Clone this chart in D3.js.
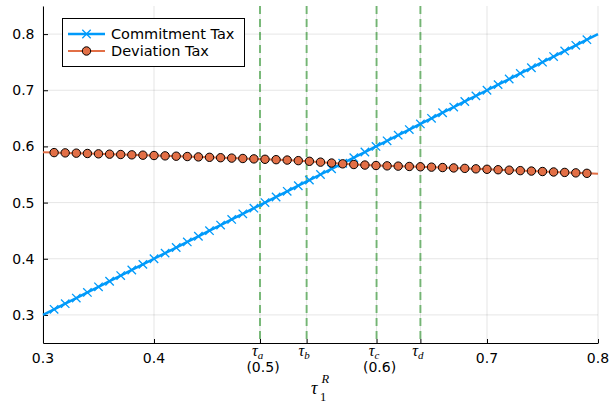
<!DOCTYPE html>
<html>
<head>
<meta charset="utf-8">
<script src="https://cdn.jsdelivr.net/npm/d3@7"></script>
<style>
  html, body { margin: 0; padding: 0; background: #fff; }
  svg { display: block; }
  .tick-label { font-family: "DejaVu Sans", sans-serif; font-size: 14px; fill: #000; }
  .math { font-family: "Liberation Serif", "DejaVu Serif", serif; font-style: italic; fill: #000; }
</style>
</head>
<body>
<svg id="chart" width="610" height="406"></svg>
<script>
// Top-of-file data
const tauR = [0.30,0.31,0.32,0.33,0.34,0.35,0.36,0.37,0.38,0.39,0.40,0.41,0.42,0.43,0.44,0.45,0.46,0.47,0.48,0.49,0.50,
              0.51,0.52,0.53,0.54,0.55,0.56,0.57,0.58,0.59,0.60,0.61,0.62,0.63,0.64,0.65,0.66,0.67,0.68,0.69,0.70,
              0.71,0.72,0.73,0.74,0.75,0.76,0.77,0.78,0.79,0.80];
const commitmentTax = [0.30,0.31,0.32,0.33,0.34,0.35,0.36,0.37,0.38,0.39,0.40,0.41,0.42,0.43,0.44,0.45,0.46,0.47,0.48,0.49,0.50,
              0.51,0.52,0.53,0.54,0.55,0.56,0.57,0.58,0.59,0.60,0.61,0.62,0.63,0.64,0.65,0.66,0.67,0.68,0.69,0.70,
              0.71,0.72,0.73,0.74,0.75,0.76,0.77,0.78,0.79,0.80];
const deviationTax = [0.5895,0.5890,0.5885,0.5880,0.5874,0.5868,0.5862,0.5856,0.5850,0.5844,0.5838,0.5832,0.5826,0.5820,0.5813,
              0.5806,0.5799,0.5792,0.5785,0.5778,0.5771,0.5764,0.5757,0.5747,0.5735,0.5720,0.5704,0.5690,0.5678,0.5668,
              0.5660,0.5654,0.5649,0.5643,0.5637,0.5631,0.5624,0.5617,0.5609,0.5601,0.5593,0.5585,0.5577,0.5569,0.5561,
              0.5553,0.5545,0.5537,0.5529,0.5521,0.5513];
const seriesNames = ["Commitment Tax", "Deviation Tax"];
const thresholdValues = [0.4955, 0.5375, 0.6005, 0.6400];
const thresholdSubs = ["a", "b", "c", "d"];
const thresholdNotes = ["(0.5)", "", "(0.6)", ""];
const xTickValues = [0.3, 0.4, 0.7, 0.8];
const yTickValues = [0.3, 0.4, 0.5, 0.6, 0.7, 0.8];

const svg = d3.select("#chart");
const plotLeft = 43, plotRight = 598, plotTop = 6, plotBottom = 343;
const x = d3.scaleLinear().domain([0.3, 0.8]).range([plotLeft, plotRight]);
const y = d3.scaleLinear().domain([0.25, 0.85]).range([plotBottom, plotTop]);

const blue = "#009AFA", orange = "#E26F46";

// grid
const grid = svg.append("g").attr("stroke", "#000").attr("stroke-opacity", 0.1).attr("stroke-width", 1);
grid.selectAll("line.gx").data(xTickValues.concat(thresholdValues)).join("line")
  .attr("x1", d => x(d)).attr("x2", d => x(d)).attr("y1", plotTop).attr("y2", plotBottom);
grid.selectAll("line.gy").data(yTickValues).join("line")
  .attr("x1", plotLeft).attr("x2", plotRight).attr("y1", d => y(d)).attr("y2", d => y(d));

// axes
const xAxis = d3.axisBottom(x).tickValues(xTickValues.concat(thresholdValues)).tickSize(0).tickFormat(() => "");
const gx = svg.append("g").attr("transform", `translate(0,${plotBottom})`).call(xAxis);
gx.select(".domain").attr("stroke", "#000").attr("stroke-width", 1);
gx.selectAll(".tick").append("line").attr("y1", 0).attr("y2", -4).attr("stroke", "#000");

const yAxis = d3.axisLeft(y).tickValues(yTickValues).tickSize(0).tickFormat(() => "");
const gy = svg.append("g").attr("transform", `translate(${plotLeft},0)`).call(yAxis);
gy.select(".domain").attr("stroke", "#000").attr("stroke-width", 1);
gy.selectAll(".tick").append("line").attr("x1", 0).attr("x2", 5).attr("stroke", "#000");

// tick labels
svg.append("g").selectAll("text").data(xTickValues).join("text")
  .attr("class", "tick-label").attr("x", d => x(d)).attr("y", 362.5)
  .attr("text-anchor", "middle").text(d => d3.format(".1f")(d));
svg.append("g").selectAll("text").data(yTickValues).join("text")
  .attr("class", "tick-label").attr("x", 34.5).attr("y", d => y(d) + 5)
  .attr("text-anchor", "end").text(d => d3.format(".1f")(d));

// threshold labels: τ with subscript, plus an optional numeric note below
const th = svg.append("g").selectAll("g").data(thresholdValues).join("g")
  .attr("transform", d => `translate(${x(d)},0)`);
th.append("text").attr("class", "math").attr("text-anchor", "middle").attr("x", -2.5).attr("y", 356)
  .each(function(d, i) {
    const t = d3.select(this);
    t.append("tspan").attr("font-size", "16px").text("τ");
    t.append("tspan").attr("font-size", "11px").attr("dy", 3).text(thresholdSubs[i]);
  });
th.append("text").attr("class", "tick-label").attr("text-anchor", "middle").attr("x", 3).attr("y", 371.5)
  .text((d, i) => thresholdNotes[i]);

// x-axis title τ₁ᴿ
const xt = svg.append("text").attr("class", "math").attr("x", 311).attr("y", 394);
xt.append("tspan").attr("font-size", "18px").text("τ");
xt.append("tspan").attr("font-size", "12.5px").attr("x", 321.5).attr("y", 382.5).text("R");
xt.append("tspan").attr("font-size", "12.5px").attr("x", 320).attr("y", 401).attr("font-style", "normal").text("1");

// threshold dashed lines
svg.append("g").selectAll("line").data(thresholdValues).join("line")
  .attr("x1", d => x(d)).attr("x2", d => x(d)).attr("y1", plotTop).attr("y2", plotBottom)
  .attr("stroke", "rgb(0,128,0)").attr("stroke-opacity", 0.5).attr("stroke-width", 2)
  .attr("stroke-dasharray", "8,5");

const plot = svg.append("g");
const line = d3.line().x(d => x(d[0])).y(d => y(d[1]));
const commitPts = tauR.map((t, i) => [t, commitmentTax[i]]);
const devPts = tauR.map((t, i) => [t, deviationTax[i]]);

// Commitment tax
plot.append("path").datum(commitPts).attr("d", line)
  .attr("fill", "none").attr("stroke", blue).attr("stroke-width", 2.5);
const xMark = s => `M${-s},${-s}L${s},${s}M${-s},${s}L${s},${-s}`;
plot.append("g").selectAll("path").data(commitPts.slice(1, -1)).join("path")
  .attr("transform", d => `translate(${x(d[0])},${y(d[1])})`)
  .attr("d", xMark(4.2)).attr("stroke", blue).attr("stroke-width", 1.3).attr("fill", "none");

// Deviation tax
plot.append("path").datum(devPts).attr("d", line)
  .attr("fill", "none").attr("stroke", orange).attr("stroke-width", 2);
plot.append("g").selectAll("circle").data(devPts.slice(1, -1)).join("circle")
  .attr("cx", d => x(d[0])).attr("cy", d => y(d[1])).attr("r", 4.2)
  .attr("fill", orange).attr("stroke", "#000").attr("stroke-width", 1);

// legend
const lg = svg.append("g");
lg.append("rect").attr("x", 62.5).attr("y", 18.5).attr("width", 182).attr("height", 48)
  .attr("fill", "#fff").attr("stroke", "#000").attr("stroke-width", 1);
const rows = lg.selectAll("g").data(seriesNames).join("g")
  .attr("transform", (d, i) => `translate(0,${34 + i * 17})`);
rows.append("line").attr("x1", 68).attr("x2", 105).attr("y1", 0).attr("y2", 0)
  .attr("stroke", (d, i) => i === 0 ? blue : orange).attr("stroke-width", (d, i) => i === 0 ? 2.5 : 2);
rows.filter((d, i) => i === 0).append("path").attr("transform", "translate(86.5,0)")
  .attr("d", xMark(4.2)).attr("stroke", blue).attr("stroke-width", 1.3);
rows.filter((d, i) => i === 1).append("circle").attr("cx", 86.5).attr("cy", 0).attr("r", 4.2)
  .attr("fill", orange).attr("stroke", "#000");
rows.append("text").attr("class", "tick-label").attr("x", 111).attr("y", 5.2)
  .style("font-size", "14.5px").text(d => d);
</script>
</body>
</html>
